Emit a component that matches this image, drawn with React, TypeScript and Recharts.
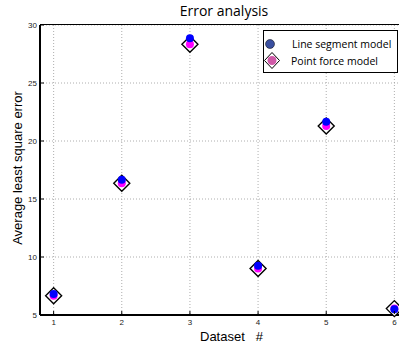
import {
  ScatterChart,
  Scatter,
  XAxis,
  YAxis,
  CartesianGrid,
} from 'recharts';

const datasets = [1, 2, 3, 4, 5, 6];
const lineSegmentError = [6.8, 16.65, 28.85, 9.25, 21.65, 5.5];
const pointForceError = [6.65, 16.35, 28.35, 9.0, 21.3, 5.55];
const xTicks = [1, 2, 3, 4, 5, 6];
const yTicks = [5, 10, 15, 20, 25, 30];

const lineData = datasets.map((d, i) => ({ x: d, y: lineSegmentError[i] }));
const pointData = datasets.map((d, i) => ({ x: d, y: pointForceError[i] }));

const Dot = (color: string) => (props: any) => (
  <circle cx={props.cx} cy={props.cy} r={4} fill={color} />
);

const Diamond = (props: any) => {
  const { cx, cy } = props;
  const s = 8;
  return (
    <polygon
      points={`${cx},${cy - s} ${cx + s},${cy} ${cx},${cy + s} ${cx - s},${cy}`}
      fill="#fff"
      stroke="#000"
      strokeWidth={1.4}
    />
  );
};

// tick props arrive offset by tickSize+tickMargin (8px) from the axis line
const BottomTick = (props: any) => {
  const { x, y, payload } = props;
  return (
    <g>
      <line x1={x} y1={y - 9} x2={x} y2={y - 12} stroke="#000" />
      <text x={x} y={y + 2} textAnchor="middle" fontSize={8} fill="#222" fontFamily="Arial, 'Liberation Sans'">
        {payload.value}
      </text>
    </g>
  );
};

const LeftTick = (props: any) => {
  const { x, y, payload } = props;
  return (
    <g>
      <line x1={x + 9} y1={y} x2={x + 12} y2={y} stroke="#000" />
      <text x={x + 5} y={y + 3} textAnchor="end" fontSize={8} fill="#222" fontFamily="Arial, 'Liberation Sans'">
        {payload.value}
      </text>
    </g>
  );
};

const LegendBox = () => (
  <div
    style={{
      position: 'absolute',
      top: 30,
      left: 263,
      width: 135,
      height: 43,
      border: '1px solid #000',
      background: '#fff',
      fontFamily: "'Open Sans', sans-serif",
      fontSize: 10.5,
      color: '#000',
      boxSizing: 'border-box',
      whiteSpace: 'nowrap',
    }}
  >
    <div style={{ display: 'flex', alignItems: 'center', height: 16, marginTop: 5 }}>
      <svg width={28} height={16} style={{ flex: 'none' }}>
        <circle cx={6} cy={8} r={4.5} fill="#3a4fa0" stroke="#000" strokeWidth={0.5} />
      </svg>
      <span>Line segment model</span>
    </div>
    <div style={{ display: 'flex', alignItems: 'center', height: 17 }}>
      <svg width={27} height={17} style={{ flex: 'none' }}>
        <polygon points="8,0.5 15.5,8.5 8,16.5 0.5,8.5" fill="#fff" stroke="#000" strokeWidth={1} />
        <circle cx={8} cy={8.5} r={4.5} fill="#d05aa8" />
      </svg>
      <span>Point force model</span>
    </div>
  </div>
);

export default function App() {
  return (
    <div
      style={{
        position: 'absolute',
        left: 0,
        top: 0,
        width: 399,
        height: 344,
        overflow: 'hidden',
        background: '#fff',
      }}
    >
      <div
        style={{
          position: 'absolute',
          top: 0,
          left: 40,
          width: 368,
          textAlign: 'center',
          fontFamily: "'Open Sans', sans-serif",
          fontSize: 14,
          lineHeight: '22px',
        }}
      >
        Error analysis
      </div>
      <ScatterChart
        width={410}
        height={344}
        margin={{ top: 25, right: 2, left: 0, bottom: 0 }}
      >
        <CartesianGrid
          stroke="#999"
          strokeDasharray="1 2"
          strokeWidth={0.8}
        />
        <XAxis
          dataKey="x"
          type="number"
          domain={[0.8, 6.2]}
          ticks={xTicks}
          height={29}
          axisLine={{ stroke: '#000', strokeWidth: 2 }}
          tickLine={false}
          tick={<BottomTick />}
          interval={0}
        />
        <YAxis
          dataKey="y"
          type="number"
          domain={[5, 30]}
          ticks={yTicks}
          width={40}
          axisLine={{ stroke: '#000', strokeWidth: 2 }}
          tickLine={false}
          tick={<LeftTick />}
          interval={0}
        />
        <Scatter
          name="Point force model"
          data={pointData}
          shape={Diamond}
          isAnimationActive={false}
        />
        <Scatter
          name="Point force model"
          data={pointData}
          shape={Dot('#ff00ff')}
          isAnimationActive={false}
        />
        <Scatter
          name="Line segment model"
          data={lineData}
          shape={Dot('#0000ff')}
          isAnimationActive={false}
        />
      </ScatterChart>
      {/* top frame of the axes box */}
      <div
        style={{
          position: 'absolute',
          top: 24,
          left: 40,
          width: 370,
          height: 0,
          borderTop: '1.5px solid #000',
        }}
      />
      <LegendBox />
      <div
        style={{
          position: 'absolute',
          left: 17,
          top: 168,
          transform: 'translate(-50%, -50%) rotate(-90deg)',
          fontFamily: "Arial, 'Liberation Sans'",
          fontSize: 13,
          whiteSpace: 'nowrap',
        }}
      >
        Average least square error
      </div>
      <div
        style={{
          position: 'absolute',
          top: 330,
          left: 200,
          fontFamily: "Arial, 'Liberation Sans'",
          fontSize: 13,
          lineHeight: '13px',
          whiteSpace: 'pre',
        }}
      >
        {'Dataset   #'}
      </div>
    </div>
  );
}
